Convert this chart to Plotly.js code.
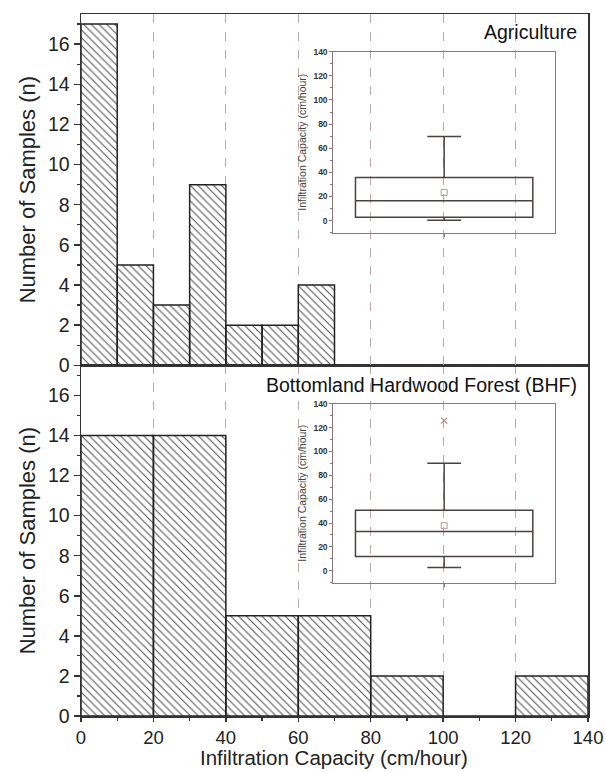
<!DOCTYPE html>
<html>
<head>
<meta charset="utf-8">
<script src="https://cdn.plot.ly/plotly-3.0.1.min.js"></script>
<style>html,body{margin:0;padding:0;background:#fff;}#plot{width:605px;height:772px;}</style>
</head>
<body>
<div id="plot"></div>
<script>
// ---- data ----
var agriBinStart = [0, 10, 20, 30, 40, 50, 60];
var agriCounts   = [17, 5, 3, 9, 2, 2, 4];
var agriBinWidth = 10;

var bhfBinStart = [0, 20, 40, 60, 80, 100, 120];
var bhfCounts   = [14, 14, 5, 5, 2, 0, 2];
var bhfBinWidth = 20;

// box statistics (cm/hour)
var agriBox = {q1: 2.8, median: 16.4, q3: 35.8, lower: 0.3, upper: 69.7, mean: 23.3};
var bhfBox  = {q1: 12.0, median: 33.0, q3: 50.7, lower: 2.8, upper: 90.2, mean: 37.8};
var bhfOutliers = [125.8];

var panelLabels = ["Agriculture", "Bottomland Hardwood Forest (BHF)"];
var xTitle = "Infiltration Capacity (cm/hour)";
var yTitle = "Number of Samples (n)";
var insetTitle = "Infiltration Capacity (cm/hour)";

// ---- styles ----
var FONT = "Arial, 'Liberation Sans', sans-serif";
var frameColor = "#333333";
var gridColor = "#bcaaaa";
var insetColor = "#8a7878";
var boxColor = "#4d4040";

function barTrace(starts, counts, w, xa, ya) {
  return {
    type: "bar",
    x: starts, y: counts,
    width: starts.map(function(){return w;}),
    offset: 0,
    xaxis: xa, yaxis: ya,
    marker: {
      color: "rgba(255,255,255,0)",
      line: {color: "#222222", width: 1.5},
      pattern: {shape: "\\", size: 5.5, solidity: 0.2, fgcolor: "#555555", bgcolor: "rgba(255,255,255,0)"}
    },
    hoverinfo: "x+y",
    showlegend: false
  };
}

function boxTrace(b, xa, ya) {
  return {
    type: "box",
    x: [0], q1: [b.q1], median: [b.median], q3: [b.q3],
    lowerfence: [b.lower], upperfence: [b.upper],
    width: 0.8, whiskerwidth: 0.19,
    boxpoints: false,
    line: {color: boxColor, width: 1.5},
    fillcolor: "rgba(0,0,0,0)",
    xaxis: xa, yaxis: ya, showlegend: false
  };
}

function meanTrace(b, xa, ya) {
  return {
    type: "scatter", mode: "markers", x: [0], y: [b.mean],
    marker: {symbol: "square-open", size: 6, color: "#b89a9a", line: {width: 1}},
    xaxis: xa, yaxis: ya, showlegend: false
  };
}

var data = [
  barTrace(agriBinStart, agriCounts, agriBinWidth, "x2", "y2"),
  barTrace(bhfBinStart, bhfCounts, bhfBinWidth, "x", "y"),
  boxTrace(agriBox, "x3", "y3"),
  meanTrace(agriBox, "x3", "y3"),
  boxTrace(bhfBox, "x4", "y4"),
  meanTrace(bhfBox, "x4", "y4"),
  {
    type: "scatter", mode: "markers", x: bhfOutliers.map(function(){return 0;}), y: bhfOutliers,
    marker: {symbol: "x-thin-open", size: 6, color: "#b08888", line: {width: 1.2, color: "#b08888"}},
    xaxis: "x4", yaxis: "y4", showlegend: false
  }
];

var split = 350.7 / 702;

function mainX(extra) {
  var o = {
    range: [0, 140], dtick: 20, tick0: 0,
    showline: true, linecolor: frameColor, linewidth: 1.5, mirror: true,
    showgrid: true, gridcolor: gridColor, griddash: "dash", gridwidth: 1,
    zeroline: false,
    tickfont: {family: FONT, size: 18.5, color: "#222"}
  };
  for (var k in extra) o[k] = extra[k];
  return o;
}
function mainY(extra) {
  var o = {
    range: [0, 17.5], dtick: 2, tick0: 0,
    showline: true, linecolor: frameColor, linewidth: 1.5, mirror: true,
    ticks: "outside", ticklen: 6, tickwidth: 1.5, tickcolor: frameColor,
    minor: {dtick: 1, ticks: "outside", ticklen: 3, tickwidth: 1.2, tickcolor: frameColor, showgrid: false},
    showgrid: false, zeroline: false,
    tickfont: {family: FONT, size: 19.5, color: "#222"},
    title: {text: yTitle, font: {family: FONT, size: 22, color: "#222"}, standoff: 6}
  };
  for (var k in extra) o[k] = extra[k];
  return o;
}
function insetY(extra) {
  var o = {
    range: [-10, 140], dtick: 20, tick0: 0,
    showline: true, linecolor: insetColor, linewidth: 1, mirror: true,
    ticks: "outside", ticklen: 3, tickwidth: 1, tickcolor: insetColor,
    minor: {dtick: 10, ticks: "outside", ticklen: 2, tickwidth: 1, tickcolor: insetColor},
    showgrid: false, zeroline: false,
    tickfont: {family: FONT, size: 8.5, color: "#333", weight: "bold"},
    title: {text: insetTitle, font: {family: FONT, size: 10.5, color: "#444"}, standoff: 4}
  };
  for (var k in extra) o[k] = extra[k];
  return o;
}
function insetX(extra) {
  var o = {
    range: [-0.5, 0.5], showline: true, linecolor: insetColor, linewidth: 1, mirror: true,
    showticklabels: false, ticks: "outside", ticklen: 3, tickcolor: insetColor,
    tickvals: [0], showgrid: false, zeroline: false
  };
  for (var k in extra) o[k] = extra[k];
  return o;
}

var insetDomX = [(333.3 - 81) / 507, (555 - 81) / 507];

var layout = {
  width: 605, height: 772,
  margin: {l: 81, r: 17, t: 14, b: 56},
  paper_bgcolor: "#ffffff", plot_bgcolor: "rgba(0,0,0,0)",
  font: {family: FONT, color: "#222"},
  showlegend: false,
  bargap: 0,
  xaxis: mainX({domain: [0, 1], anchor: "y", ticks: "outside", ticklen: 4, tickwidth: 1.5, tickcolor: frameColor,
    minor: {dtick: 10, ticks: "outside", ticklen: 3, tickwidth: 1.2, tickcolor: frameColor, showgrid: false}}),
  yaxis: mainY({domain: [0, split], anchor: "x"}),
  xaxis2: mainX({domain: [0, 1], anchor: "y2", showticklabels: false, ticks: ""}),
  yaxis2: mainY({domain: [split, 1], anchor: "x2"}),
  xaxis3: insetX({domain: insetDomX, anchor: "y3"}),
  yaxis3: insetY({domain: [(716 - 232.7) / 702, (716 - 51.7) / 702], anchor: "x3"}),
  xaxis4: insetX({domain: insetDomX, anchor: "y4"}),
  yaxis4: insetY({domain: [(716 - 582.7) / 702, (716 - 403.7) / 702], anchor: "x4"}),
  annotations: [
    {text: panelLabels[0], xref: "paper", yref: "paper", x: (579 - 81) / 507, y: (716 - 32) / 702,
     xanchor: "right", yanchor: "middle", showarrow: false, font: {family: FONT, size: 19.5, color: "#111"}},
    {text: panelLabels[1], xref: "paper", yref: "paper", x: (579 - 81) / 507, y: (716 - 385) / 702,
     xanchor: "right", yanchor: "middle", showarrow: false, font: {family: FONT, size: 19.5, color: "#111"}},
    {text: xTitle, xref: "paper", yref: "paper", x: (334 - 81) / 507, y: (716 - 757) / 702,
     xanchor: "center", yanchor: "middle", showarrow: false, borderpad: 0,
     font: {family: FONT, size: 20.5, color: "#222"}}
  ]
};

Plotly.newPlot("plot", data, layout, {displayModeBar: false, staticPlot: true});
</script>
</body>
</html>
